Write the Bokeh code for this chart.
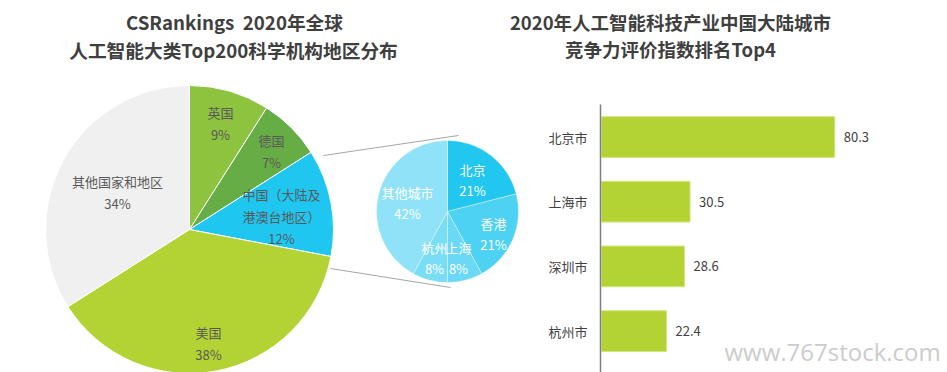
import math
from bokeh.plotting import figure
from bokeh.models import Range1d, ColumnDataSource
from bokeh.core.properties import value
from bokeh.embed import file_html
from bokeh.resources import INLINE

# ---------------- data ----------------
regions = ["英国", "德国", "中国（大陆及港澳台地区）", "美国", "其他国家和地区"]
region_share = [9, 7, 12, 38, 34]
region_colors = ["#8DC33F", "#67AD45", "#1FC7F0", "#B3D334", "#F0F0F0"]

china_parts = ["北京", "香港", "上海", "杭州", "其他城市"]
china_share = [21, 21, 8, 8, 42]
china_colors = ["#22C7EF", "#4DD2F4", "#6BD9F5", "#7ADDF6", "#8FE2F8"]

cities = ["北京市", "上海市", "深圳市", "杭州市"]
city_index = [80.3, 30.5, 28.6, 22.4]

title_left = ["CSRankings\u00a0\u00a02020年全球", "人工智能大类Top200科学机构地区分布"]
title_right = ["2020年人工智能科技产业中国大陆城市", "竞争力评价指数排名Top4"]
watermark = "www.767stock.com"

# ---------------- layout helpers ----------------
W, H = 947, 372


def Y(s):
    # convert a screen y (from top of picture) into plot coordinates
    return H - s


FONT = value("Noto Sans CJK SC")

p = figure(width=W, height=H, x_range=Range1d(0, W), y_range=Range1d(0, H),
           output_backend="svg", toolbar_location=None, x_axis_type=None, y_axis_type=None,
           min_border=0, min_border_left=0, min_border_right=0, min_border_top=0, min_border_bottom=0)
p.grid.visible = False
p.outline_line_color = None
p.background_fill_color = "white"
p.border_fill_color = "white"


def pie_angles(shares):
    total = float(sum(shares))
    starts, ends = [], []
    cum = 0.0
    for s in shares:
        starts.append(math.pi / 2 - 2 * math.pi * (cum + s) / total)
        ends.append(math.pi / 2 - 2 * math.pi * cum / total)
        cum += s
    return starts, ends


# ---------------- main pie ----------------
cx, cy, R = 189, Y(229), 144
s0, e0 = pie_angles(region_share)
src_main = ColumnDataSource(dict(start=s0, end=e0, color=region_colors))
p.wedge(x=cx, y=cy, radius=R, start_angle="start", end_angle="end", fill_color="color",
        line_color="white", line_width=1, direction="anticlock", source=src_main)

main_label_pos = [(220, 112), (271, 140), (281, 194), (208, 332), (117, 181)]
main_label_text = ["英国", "德国", "中国（大陆及\n港澳台地区）", "美国", "其他国家和地区"]
lx, ly, lt = [], [], []
for (x, y), name, share in zip(main_label_pos, main_label_text, region_share):
    lines = name.split("\n") + [f"{share}%"]
    for k, t in enumerate(lines):
        lx.append(x)
        ly.append(Y(y + 22 * k))
        lt.append(t)
p.text(x=lx, y=ly, text=lt, text_font=FONT, text_font_size="13px", text_color="#595959",
       text_align="center", text_baseline="middle")

# connector lines
p.segment(x0=[323, 330], y0=[Y(155), Y(268)], x1=[458, 450], y1=[Y(135), Y(287)],
          line_color="#A6A6A6", line_width=1)

# ---------------- small pie ----------------
scx, scy, sR = 447, Y(211), 71
s1, e1 = pie_angles(china_share)
src_small = ColumnDataSource(dict(start=s1, end=e1, color=china_colors))
p.wedge(x=scx, y=scy, radius=sR, start_angle="start", end_angle="end", fill_color="color",
        line_color="white", line_width=0.6, line_alpha=0.6, direction="anticlock", source=src_small)

small_name_pos = [(472, 169), (493, 223), (458, 247), (434, 247), (407, 192)]
sx, sy, st = [], [], []
for (x, y), name, share in zip(small_name_pos, china_parts, china_share):
    sx += [x, x]
    sy += [Y(y), Y(y + 21)]
    st += [name, f"{share}%"]
p.text(x=sx, y=sy, text=st, text_font=FONT, text_font_size="13px", text_color="white",
       text_align="center", text_baseline="middle")

# ---------------- bar chart ----------------
# value 0 at x=600 px, 80.3 at x=833 px
p.extra_x_ranges = {"val": Range1d(start=-206.8, end=119.1)}
# category k centred at 136.5 + 64.7*k px from the top
p.extra_y_ranges = {"city": Range1d(start=3.640, end=-2.110)}
idx = list(range(len(cities)))
src_bar = ColumnDataSource(dict(y=idx, v=city_index, city=cities,
                                lab=[f"{v:.1f}" for v in city_index]))
p.hbar(y="y", left=0, right="v", height=0.63, fill_color="#B3D334", line_color="#D3E684",
       line_width=1, x_range_name="val", y_range_name="city", source=src_bar)
p.text(x=0, y="y", text="city", x_offset=-14, text_align="right", text_baseline="middle",
       text_font=FONT, text_font_size="13px", text_color="#404040",
       x_range_name="val", y_range_name="city", source=src_bar)
p.text(x="v", y="y", text="lab", x_offset=9, text_align="left", text_baseline="middle",
       text_font=FONT, text_font_size="13px", text_color="#404040",
       x_range_name="val", y_range_name="city", source=src_bar)

# vertical axis line
p.segment(x0=[600], y0=[Y(104)], x1=[600], y1=[Y(372)], line_color="#7F7F7F", line_width=1.5)

# ---------------- titles ----------------
p.text(x=[234, 233], y=[Y(21), Y(49)], text=title_left, text_font=FONT, text_font_size="18.7px",
       text_font_style="bold", text_color="#3F3F3F", text_align="center", text_baseline="middle")
p.text(x=[670, 670], y=[Y(21), Y(48)], text=title_right, text_font=FONT, text_font_size="18.5px",
       text_font_style="bold", text_color="#3F3F3F", text_align="center", text_baseline="middle")

# watermark
p.text(x=[724], y=[Y(351)], text=[watermark], text_font=value("Open Sans"), text_font_size="24px",
       text_color="#CCCCCC", text_align="left", text_baseline="middle")

open("out.html", "w").write(file_html(p, INLINE))
